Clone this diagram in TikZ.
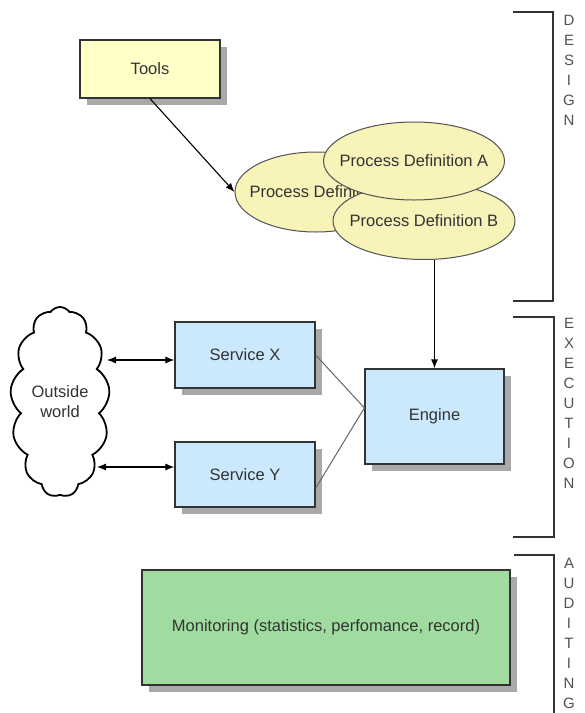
\documentclass[tikz,border=0pt]{standalone}
\usepackage{fontspec}
\setmainfont{Liberation Sans}
\usetikzlibrary{shapes.geometric,shapes.symbols,shadows,arrows.meta}
\definecolor{toolfill}{HTML}{FFFFC8}
\definecolor{pdfill}{HTML}{F7F3B9}
\definecolor{svcfill}{HTML}{CCE8FC}
\definecolor{monfill}{HTML}{A0DCA0}
\definecolor{shadowc}{HTML}{A9A9A9}
\definecolor{txt}{HTML}{333333}
\definecolor{edge}{HTML}{333333}
\begin{document}
\begin{tikzpicture}[x=1pt,y=-1pt,
 lbl/.style={font=\fontsize{16.5}{20}\selectfont, text=txt},
 box/.style={lbl, draw=edge, line width=1.2pt, rectangle, inner sep=0pt,
   drop shadow={shadow xshift=7pt, shadow yshift=-7pt, fill=shadowc, opacity=1}},
 pd/.style={ellipse, draw=edge!85, fill=pdfill, line width=1pt, inner sep=0pt},
 pdtext/.style={lbl, inner sep=0pt},
 bracket/.style={draw=edge, line width=1.2pt},
 letters/.style={font=\fontsize{15}{20}\selectfont, text=txt!85, align=center, inner sep=0pt},
 arr/.style={-{Latex[length=9pt,width=7pt]}, line width=1.1pt, draw=black},
 darr/.style={{Latex[length=9pt,width=7pt]}-{Latex[length=9pt,width=7pt]}, line width=1.1pt, draw=black},
 thin link/.style={draw=black!60, line width=1pt},
]
\useasboundingbox (0,0) rectangle (585,713);
\fill[white] (0,0) rectangle (585,713);

% Design
\node[box, fill=toolfill, minimum width=140pt, minimum height=58pt] (tools) at (150,69) {Tools};
\node[pd, minimum width=162pt, minimum height=80pt, label={[pdtext]center:Process Definition}] (pdl) at (316,192) {};
\node[pd, minimum width=182pt, minimum height=77pt, label={[pdtext]center:Process Definition B}] (pdb) at (424,221) {};
\node[pd, minimum width=181pt, minimum height=78pt, label={[pdtext]center:Process Definition A}] (pda) at (414,161) {};

% Execution
\node[cloud, draw=black, fill=white, line width=1.8pt, cloud puffs=13, cloud puff arc=110,
  aspect=0.47, minimum width=90pt, minimum height=190pt, inner sep=0pt,
  lbl, align=center] (world) at (60,402) {Outside\\world};
\node[box, fill=svcfill, minimum width=140pt, minimum height=66pt] (sx) at (245,355) {Service X};
\node[box, fill=svcfill, minimum width=140pt, minimum height=65pt] (sy) at (245,474.5) {Service Y};
\node[box, fill=svcfill, minimum width=139pt, minimum height=95pt] (engine) at (434.5,416.5) {Engine};

% Auditing
\node[box, fill=monfill, minimum width=368pt, minimum height=115pt] (mon) at (326,627.5)
  {Monitoring (statistics, perfomance, record)};

% Connectors
\draw[arr] (tools.south) -- (pdl.west);
\draw[arr] (pdb.south -| engine.north) -- (engine.north);
\draw[thin link] (sx.east) -- (engine.173);
\draw[thin link] (sy.-11) -- (engine.173);
\coordinate (c1) at (107,360);
\coordinate (c2) at (97,467);
\draw[darr] (c1) -- (c1 -| sx.west);
\draw[darr] (c2) -- (c2 -| sy.west);

% Brackets
\draw[bracket] (513,12) -- (553,12) -- (553,301) -- (513,301);
\draw[bracket] (513,317) -- (554,317) -- (554,537) -- (513,537);
\draw[bracket] (514,555) -- (554,555) -- (554,713);
\node[letters] (design) at (569,70) {D\\E\\S\\I\\G\\N};
\node[letters] (execution) at (569,403) {E\\X\\E\\C\\U\\T\\I\\O\\N};
\node[letters] (auditing) at (569,633) {A\\U\\D\\I\\T\\I\\N\\G};
\end{tikzpicture}
\end{document}
